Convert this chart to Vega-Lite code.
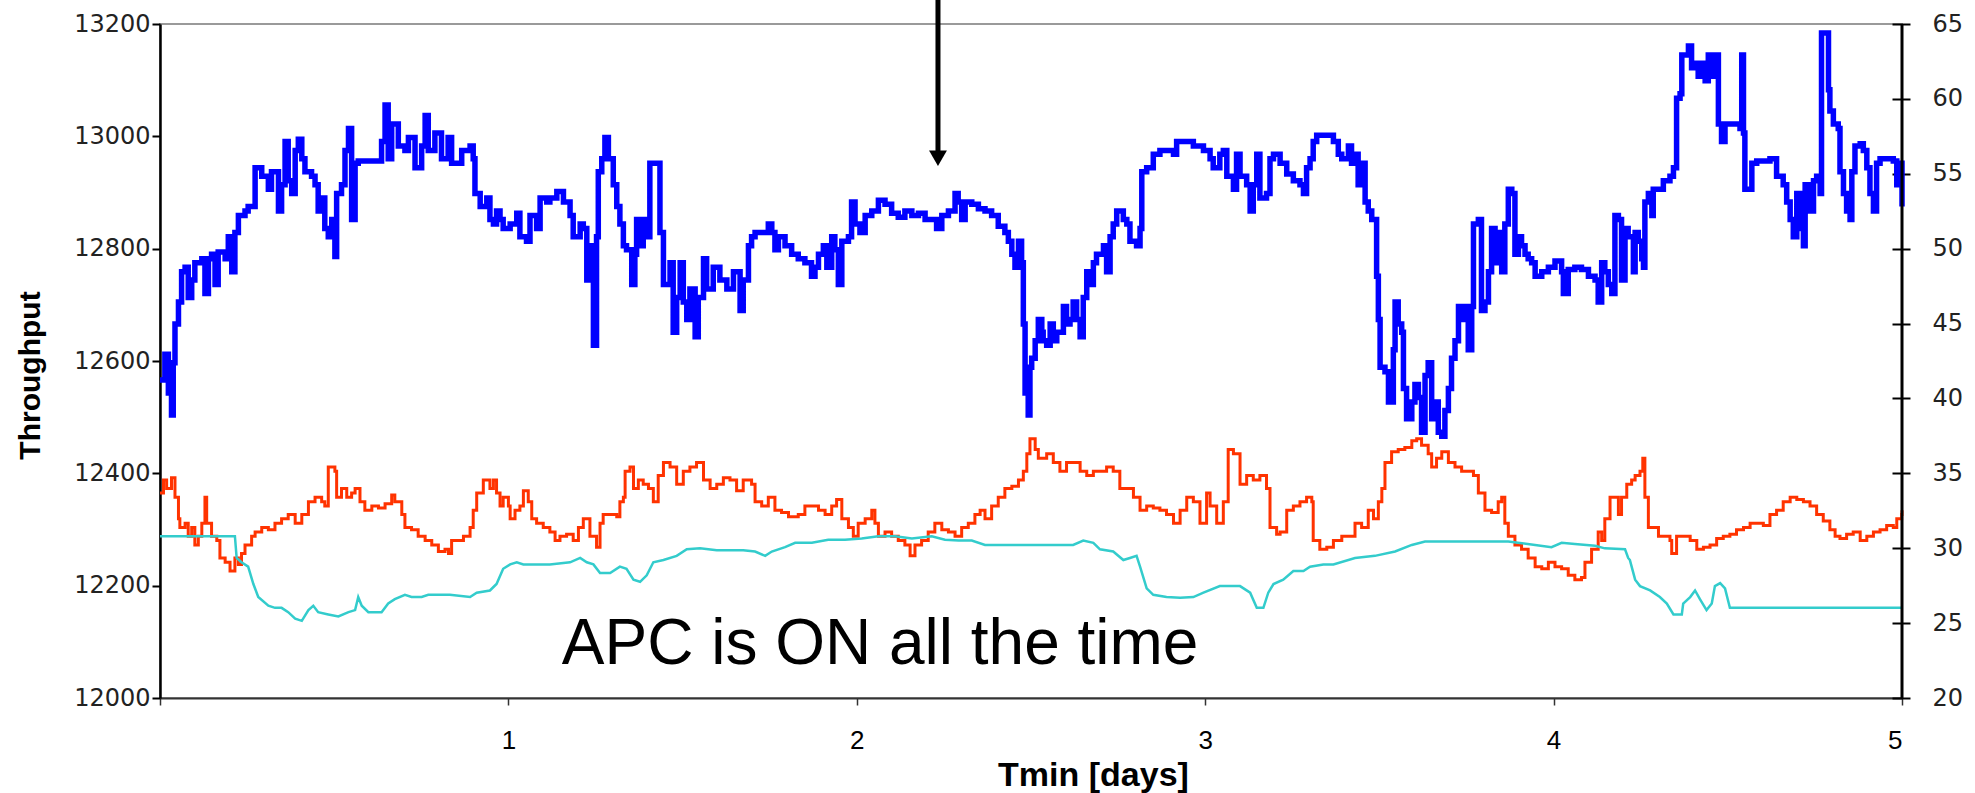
{
"$schema":"https://vega.github.io/schema/vega-lite/v6.json",
"width":1742,"height":674,
"autosize":{"type":"none"},
"padding":{"left":160,"top":24,"right":73,"bottom":95},
"background":"white",
"config":{"view":{"stroke":"#9a9a9a","strokeWidth":2},"axis":{"grid":false}},
"datasets":{
"tp":[{"t":0.000,"v":12566},{"t":0.014,"v":12612},{"t":0.024,"v":12543},{"t":0.033,"v":12504},{"t":0.038,"v":12597},{"t":0.043,"v":12666},{"t":0.053,"v":12705},{"t":0.062,"v":12759},{"t":0.072,"v":12767},{"t":0.081,"v":12713},{"t":0.091,"v":12744},{"t":0.100,"v":12775},{"t":0.120,"v":12782},{"t":0.129,"v":12720},{"t":0.139,"v":12782},{"t":0.148,"v":12790},{"t":0.158,"v":12736},{"t":0.167,"v":12794},{"t":0.187,"v":12782},{"t":0.196,"v":12821},{"t":0.206,"v":12759},{"t":0.215,"v":12829},{"t":0.225,"v":12859},{"t":0.244,"v":12867},{"t":0.253,"v":12875},{"t":0.273,"v":12944},{"t":0.292,"v":12929},{"t":0.311,"v":12906},{"t":0.320,"v":12937},{"t":0.340,"v":12867},{"t":0.349,"v":12914},{"t":0.359,"v":12991},{"t":0.368,"v":12921},{"t":0.378,"v":12898},{"t":0.388,"v":12975},{"t":0.397,"v":12995},{"t":0.407,"v":12960},{"t":0.416,"v":12937},{"t":0.435,"v":12929},{"t":0.445,"v":12914},{"t":0.454,"v":12867},{"t":0.464,"v":12890},{"t":0.473,"v":12836},{"t":0.483,"v":12821},{"t":0.493,"v":12852},{"t":0.502,"v":12786},{"t":0.507,"v":12898},{"t":0.521,"v":12914},{"t":0.531,"v":12975},{"t":0.541,"v":13014},{"t":0.550,"v":12852},{"t":0.560,"v":12952},{"t":0.569,"v":12956},{"t":0.617,"v":12956},{"t":0.636,"v":12991},{"t":0.646,"v":13056},{"t":0.655,"v":12960},{"t":0.665,"v":13022},{"t":0.684,"v":12983},{"t":0.703,"v":12975},{"t":0.713,"v":12998},{"t":0.732,"v":12944},{"t":0.751,"v":12983},{"t":0.761,"v":13037},{"t":0.770,"v":12975},{"t":0.789,"v":13006},{"t":0.808,"v":12960},{"t":0.827,"v":12998},{"t":0.837,"v":12952},
{"t":0.866,"v":12975},{"t":0.890,"v":12983},{"t":0.899,"v":12960},{"t":0.904,"v":12898},{"t":0.919,"v":12875},{"t":0.938,"v":12890},{"t":0.947,"v":12852},{"t":0.957,"v":12844},{"t":0.966,"v":12867},{"t":0.976,"v":12852},{"t":0.985,"v":12836},{"t":1.005,"v":12844},{"t":1.024,"v":12863},{"t":1.033,"v":12821},{"t":1.052,"v":12813},{"t":1.062,"v":12859},{"t":1.081,"v":12836},{"t":1.091,"v":12890},{"t":1.110,"v":12883},{"t":1.119,"v":12890},{"t":1.139,"v":12902},{"t":1.158,"v":12883},{"t":1.177,"v":12859},{"t":1.186,"v":12821},{"t":1.206,"v":12844},{"t":1.215,"v":12836},{"t":1.225,"v":12744},{"t":1.234,"v":12805},{"t":1.244,"v":12628},{"t":1.253,"v":12821},{"t":1.258,"v":12937},{"t":1.268,"v":12960},{"t":1.277,"v":12998},{"t":1.287,"v":12960},{"t":1.301,"v":12914},{"t":1.311,"v":12875},{"t":1.320,"v":12844},{"t":1.330,"v":12805},{"t":1.339,"v":12798},{"t":1.354,"v":12736},{"t":1.363,"v":12790},{"t":1.368,"v":12852},{"t":1.378,"v":12805},{"t":1.387,"v":12852},{"t":1.397,"v":12821},{"t":1.406,"v":12952},{"t":1.426,"v":12952},{"t":1.435,"v":12829},{"t":1.445,"v":12736},{"t":1.464,"v":12775},{"t":1.473,"v":12651},{"t":1.483,"v":12713},{"t":1.493,"v":12775},{"t":1.502,"v":12705},{"t":1.512,"v":12674},{"t":1.521,"v":12728},{"t":1.536,"v":12643},{"t":1.545,"v":12713},{"t":1.560,"v":12782},{"t":1.569,"v":12728},{"t":1.588,"v":12767},{"t":1.607,"v":12744},{"t":1.627,"v":12728},{"t":1.646,"v":12759},{"t":1.665,"v":12690},{"t":1.674,"v":12744},
{"t":1.689,"v":12805},{"t":1.698,"v":12821},{"t":1.708,"v":12829},{"t":1.727,"v":12829},{"t":1.746,"v":12844},{"t":1.756,"v":12829},{"t":1.765,"v":12798},{"t":1.775,"v":12821},{"t":1.794,"v":12805},{"t":1.813,"v":12790},{"t":1.832,"v":12782},{"t":1.851,"v":12775},{"t":1.870,"v":12751},{"t":1.880,"v":12767},{"t":1.890,"v":12790},{"t":1.904,"v":12805},{"t":1.914,"v":12767},{"t":1.928,"v":12821},{"t":1.937,"v":12798},{"t":1.947,"v":12736},{"t":1.957,"v":12813},{"t":1.976,"v":12821},{"t":1.985,"v":12883},{"t":1.995,"v":12844},{"t":2.009,"v":12829},{"t":2.024,"v":12859},{"t":2.043,"v":12867},{"t":2.062,"v":12886},{"t":2.081,"v":12879},{"t":2.100,"v":12863},{"t":2.119,"v":12856},{"t":2.138,"v":12867},{"t":2.158,"v":12859},{"t":2.177,"v":12863},{"t":2.196,"v":12852},{"t":2.215,"v":12852},{"t":2.229,"v":12836},{"t":2.244,"v":12859},{"t":2.263,"v":12867},{"t":2.282,"v":12898},{"t":2.291,"v":12883},{"t":2.301,"v":12852},{"t":2.311,"v":12883},{"t":2.330,"v":12879},{"t":2.349,"v":12871},{"t":2.368,"v":12867},{"t":2.387,"v":12859},{"t":2.406,"v":12840},{"t":2.425,"v":12829},{"t":2.435,"v":12813},{"t":2.445,"v":12790},{"t":2.454,"v":12767},{"t":2.464,"v":12813},{"t":2.473,"v":12775},{"t":2.478,"v":12666},{"t":2.483,"v":12543},{"t":2.492,"v":12504},{"t":2.497,"v":12589},{"t":2.502,"v":12605},{"t":2.512,"v":12636},{"t":2.521,"v":12674},{"t":2.531,"v":12651},
{"t":2.535,"v":12636},{"t":2.545,"v":12628},{"t":2.555,"v":12666},{"t":2.564,"v":12636},{"t":2.574,"v":12651},{"t":2.593,"v":12697},{"t":2.602,"v":12666},{"t":2.612,"v":12674},{"t":2.621,"v":12705},{"t":2.631,"v":12674},{"t":2.641,"v":12643},{"t":2.650,"v":12713},{"t":2.660,"v":12759},{"t":2.669,"v":12736},{"t":2.679,"v":12775},{"t":2.688,"v":12790},{"t":2.708,"v":12805},{"t":2.717,"v":12759},{"t":2.727,"v":12821},{"t":2.736,"v":12844},{"t":2.746,"v":12867},{"t":2.755,"v":12867},{"t":2.765,"v":12852},{"t":2.775,"v":12844},{"t":2.784,"v":12813},{"t":2.803,"v":12805},{"t":2.813,"v":12836},{"t":2.818,"v":12937},{"t":2.832,"v":12944},{"t":2.851,"v":12968},{"t":2.870,"v":12975},{"t":2.889,"v":12975},{"t":2.909,"v":12968},{"t":2.918,"v":12991},{"t":2.937,"v":12991},{"t":2.966,"v":12983},{"t":2.995,"v":12975},{"t":3.014,"v":12960},{"t":3.023,"v":12944},{"t":3.042,"v":12968},{"t":3.052,"v":12975},{"t":3.062,"v":12929},{"t":3.081,"v":12906},{"t":3.090,"v":12968},{"t":3.100,"v":12929},{"t":3.119,"v":12914},{"t":3.129,"v":12867},{"t":3.138,"v":12914},{"t":3.148,"v":12968},{"t":3.157,"v":12890},{"t":3.176,"v":12898},{"t":3.186,"v":12960},{"t":3.196,"v":12968},{"t":3.215,"v":12952},{"t":3.234,"v":12933},{"t":3.253,"v":12921},{"t":3.272,"v":12914},{"t":3.282,"v":12898},{"t":3.291,"v":12944},{"t":3.301,"v":12960},{"t":3.310,"v":12991},{"t":3.320,"v":13002},{"t":3.349,"v":13002},{"t":3.368,"v":12991},
{"t":3.382,"v":12968},{"t":3.392,"v":12960},{"t":3.411,"v":12983},{"t":3.420,"v":12952},{"t":3.430,"v":12968},{"t":3.439,"v":12914},{"t":3.449,"v":12952},{"t":3.459,"v":12883},{"t":3.468,"v":12867},{"t":3.478,"v":12852},{"t":3.487,"v":12852},{"t":3.492,"v":12751},{"t":3.497,"v":12674},{"t":3.502,"v":12589},{"t":3.516,"v":12581},{"t":3.526,"v":12527},{"t":3.535,"v":12527},{"t":3.540,"v":12620},{"t":3.545,"v":12705},{"t":3.554,"v":12666},{"t":3.564,"v":12651},{"t":3.569,"v":12551},{"t":3.578,"v":12497},{"t":3.593,"v":12527},{"t":3.602,"v":12558},{"t":3.612,"v":12535},{"t":3.621,"v":12473},{"t":3.631,"v":12574},{"t":3.640,"v":12597},{"t":3.650,"v":12497},{"t":3.660,"v":12527},{"t":3.669,"v":12473},{"t":3.679,"v":12466},{"t":3.688,"v":12512},{"t":3.698,"v":12551},{"t":3.707,"v":12605},{"t":3.717,"v":12636},{"t":3.727,"v":12697},{"t":3.736,"v":12674},{"t":3.746,"v":12697},{"t":3.755,"v":12620},{"t":3.765,"v":12697},{"t":3.770,"v":12844},{"t":3.784,"v":12852},{"t":3.793,"v":12690},{"t":3.803,"v":12705},{"t":3.813,"v":12759},{"t":3.822,"v":12836},{"t":3.832,"v":12775},{"t":3.841,"v":12829},{"t":3.851,"v":12759},{"t":3.860,"v":12844},{"t":3.870,"v":12906},{"t":3.880,"v":12898},{"t":3.889,"v":12790},{"t":3.899,"v":12821},{"t":3.908,"v":12805},{"t":3.918,"v":12790},{"t":3.927,"v":12782},{"t":3.937,"v":12775},{"t":3.947,"v":12751},{"t":3.966,"v":12759},{"t":3.985,"v":12767},{"t":4.004,"v":12778},{"t":4.023,"v":12759},{"t":4.028,"v":12720},{"t":4.042,"v":12763},{"t":4.061,"v":12767},{"t":4.080,"v":12763},{"t":4.100,"v":12751},{"t":4.119,"v":12744},{"t":4.128,"v":12705},{"t":4.138,"v":12775},{"t":4.147,"v":12759},{"t":4.157,"v":12736},{"t":4.167,"v":12720},{"t":4.176,"v":12859},{"t":4.186,"v":12852},{"t":4.195,"v":12744},{"t":4.205,"v":12836},{"t":4.214,"v":12821},
{"t":4.229,"v":12759},{"t":4.234,"v":12829},{"t":4.243,"v":12813},{"t":4.253,"v":12782},{"t":4.258,"v":12767},{"t":4.262,"v":12883},{"t":4.272,"v":12898},{"t":4.282,"v":12859},{"t":4.286,"v":12906},{"t":4.296,"v":12906},{"t":4.315,"v":12921},{"t":4.334,"v":12929},{"t":4.344,"v":12944},{"t":4.353,"v":13068},{"t":4.363,"v":13076},{"t":4.368,"v":13145},{"t":4.377,"v":13145},{"t":4.387,"v":13161},{"t":4.396,"v":13122},{"t":4.406,"v":13130},{"t":4.415,"v":13107},{"t":4.425,"v":13130},{"t":4.435,"v":13099},{"t":4.444,"v":13145},{"t":4.454,"v":13107},{"t":4.463,"v":13145},{"t":4.473,"v":13022},{"t":4.482,"v":12991},{"t":4.492,"v":13022},{"t":4.506,"v":13022},{"t":4.525,"v":13022},{"t":4.535,"v":13014},{"t":4.540,"v":13145},{"t":4.545,"v":13006},{"t":4.549,"v":12906},{"t":4.559,"v":12906},{"t":4.569,"v":12952},{"t":4.583,"v":12956},{"t":4.612,"v":12956},{"t":4.621,"v":12960},{"t":4.640,"v":12929},{"t":4.659,"v":12914},{"t":4.669,"v":12883},{"t":4.679,"v":12852},{"t":4.688,"v":12821},{"t":4.698,"v":12898},{"t":4.707,"v":12836},{"t":4.717,"v":12805},{"t":4.722,"v":12914},{"t":4.736,"v":12867},{"t":4.746,"v":12921},{"t":4.755,"v":12929},{"t":4.765,"v":12898},{"t":4.769,"v":13184},{"t":4.779,"v":13184},{"t":4.789,"v":13083},{"t":4.793,"v":13045},{"t":4.803,"v":13022},{"t":4.817,"v":13014},{"t":4.822,"v":12937},{"t":4.832,"v":12898},{"t":4.841,"v":12867},{"t":4.851,"v":12852},{"t":4.856,"v":12937},{"t":4.865,"v":12983},{"t":4.880,"v":12987},{"t":4.889,"v":12975},{"t":4.899,"v":12944},{"t":4.908,"v":12898},{"t":4.918,"v":12867},{"t":4.927,"v":12952},{"t":4.937,"v":12960},{"t":4.956,"v":12960},{"t":4.975,"v":12956},{"t":4.985,"v":12914},{"t":4.994,"v":12952},{"t":5.000,"v":12875}],
"red":[{"t":0.000,"v":33.69},{"t":0.010,"v":34.56},{"t":0.019,"v":33.98},{"t":0.033,"v":34.71},{"t":0.043,"v":33.40},{"t":0.053,"v":31.96},{"t":0.057,"v":31.38},{"t":0.072,"v":31.67},{"t":0.081,"v":30.80},{"t":0.091,"v":31.38},{"t":0.100,"v":30.22},{"t":0.110,"v":30.80},{"t":0.120,"v":31.67},{"t":0.129,"v":33.40},{"t":0.134,"v":31.67},{"t":0.148,"v":30.80},{"t":0.163,"v":30.51},{"t":0.172,"v":29.35},{"t":0.187,"v":29.06},{"t":0.201,"v":28.48},{"t":0.215,"v":29.35},{"t":0.225,"v":28.92},{"t":0.234,"v":29.64},{"t":0.244,"v":30.22},{"t":0.263,"v":30.80},{"t":0.273,"v":31.09},{"t":0.292,"v":31.38},{"t":0.311,"v":31.23},{"t":0.330,"v":31.67},{"t":0.349,"v":31.96},{"t":0.368,"v":32.25},{"t":0.388,"v":31.67},{"t":0.407,"v":32.25},{"t":0.426,"v":33.11},{"t":0.445,"v":33.40},{"t":0.464,"v":33.11},{"t":0.473,"v":32.82},{"t":0.483,"v":35.43},{"t":0.502,"v":35.14},{"t":0.507,"v":33.40},{"t":0.521,"v":33.98},{"t":0.536,"v":33.40},{"t":0.550,"v":33.69},{"t":0.560,"v":33.98},{"t":0.574,"v":33.11},{"t":0.588,"v":32.53},{"t":0.608,"v":32.82},{"t":0.627,"v":32.68},{"t":0.646,"v":32.97},{"t":0.665,"v":33.55},{"t":0.674,"v":33.11},{"t":0.694,"v":32.25},{"t":0.703,"v":31.38},{"t":0.722,"v":31.23},{"t":0.741,"v":30.80},{"t":0.761,"v":30.51},{"t":0.780,"v":30.22},{"t":0.799,"v":29.78},{"t":0.818,"v":29.93},{"t":0.828,"v":29.64},{"t":0.837,"v":30.51},
{"t":0.852,"v":30.51},{"t":0.871,"v":30.80},{"t":0.890,"v":31.38},{"t":0.899,"v":32.53},{"t":0.909,"v":33.69},{"t":0.928,"v":34.56},{"t":0.947,"v":33.98},{"t":0.957,"v":34.56},{"t":0.966,"v":33.69},{"t":0.976,"v":32.82},{"t":0.985,"v":33.40},{"t":1.000,"v":32.82},{"t":1.005,"v":31.96},{"t":1.019,"v":32.53},{"t":1.033,"v":32.82},{"t":1.043,"v":33.84},{"t":1.057,"v":33.11},{"t":1.067,"v":31.96},{"t":1.081,"v":31.67},{"t":1.100,"v":31.38},{"t":1.119,"v":31.09},{"t":1.134,"v":30.51},{"t":1.148,"v":30.80},{"t":1.167,"v":30.94},{"t":1.186,"v":30.51},{"t":1.201,"v":31.38},{"t":1.215,"v":31.96},{"t":1.234,"v":30.80},{"t":1.253,"v":30.07},{"t":1.263,"v":31.67},{"t":1.272,"v":32.25},{"t":1.292,"v":32.25},{"t":1.311,"v":32.10},{"t":1.320,"v":33.11},{"t":1.330,"v":33.40},{"t":1.335,"v":35.14},{"t":1.349,"v":35.43},{"t":1.359,"v":33.98},{"t":1.373,"v":34.56},{"t":1.387,"v":34.27},{"t":1.402,"v":33.98},{"t":1.416,"v":33.11},{"t":1.430,"v":34.85},{"t":1.445,"v":35.72},{"t":1.464,"v":35.43},{"t":1.483,"v":34.27},{"t":1.502,"v":35.14},{"t":1.521,"v":35.43},{"t":1.540,"v":35.72},{"t":1.560,"v":34.56},{"t":1.579,"v":33.98},{"t":1.598,"v":34.27},{"t":1.617,"v":34.71},{"t":1.636,"v":34.56},{"t":1.655,"v":33.84},{"t":1.674,"v":34.56},
{"t":1.698,"v":34.27},{"t":1.708,"v":33.11},{"t":1.727,"v":32.82},{"t":1.746,"v":33.40},{"t":1.765,"v":32.53},{"t":1.784,"v":32.39},{"t":1.804,"v":32.10},{"t":1.832,"v":32.25},{"t":1.851,"v":32.82},{"t":1.871,"v":32.82},{"t":1.890,"v":32.53},{"t":1.909,"v":32.25},{"t":1.928,"v":32.82},{"t":1.942,"v":33.26},{"t":1.957,"v":31.96},{"t":1.976,"v":31.38},{"t":1.990,"v":30.80},{"t":2.004,"v":31.67},{"t":2.024,"v":31.96},{"t":2.043,"v":32.53},{"t":2.052,"v":31.67},{"t":2.062,"v":30.80},{"t":2.081,"v":31.09},{"t":2.100,"v":30.80},{"t":2.119,"v":30.51},{"t":2.138,"v":30.22},{"t":2.153,"v":29.49},{"t":2.167,"v":30.22},{"t":2.186,"v":30.51},{"t":2.205,"v":31.09},{"t":2.224,"v":31.67},{"t":2.244,"v":31.23},{"t":2.263,"v":31.09},{"t":2.282,"v":30.80},{"t":2.301,"v":31.38},{"t":2.320,"v":31.67},{"t":2.339,"v":32.25},{"t":2.354,"v":32.53},{"t":2.368,"v":31.96},{"t":2.387,"v":32.82},{"t":2.406,"v":33.40},{"t":2.425,"v":33.98},{"t":2.445,"v":34.13},{"t":2.464,"v":34.56},{"t":2.478,"v":35.14},{"t":2.488,"v":36.30},{"t":2.497,"v":37.31},{"t":2.512,"v":36.59},{"t":2.521,"v":36.01},
{"t":2.545,"v":36.30},{"t":2.564,"v":35.72},{"t":2.583,"v":35.14},{"t":2.602,"v":35.72},{"t":2.621,"v":35.72},{"t":2.641,"v":35.14},{"t":2.660,"v":34.85},{"t":2.679,"v":35.14},{"t":2.698,"v":35.14},{"t":2.717,"v":35.43},{"t":2.736,"v":35.14},{"t":2.755,"v":33.98},{"t":2.775,"v":33.98},{"t":2.794,"v":33.40},{"t":2.813,"v":32.53},{"t":2.832,"v":32.82},{"t":2.851,"v":32.68},{"t":2.870,"v":32.53},{"t":2.889,"v":32.25},{"t":2.909,"v":31.67},{"t":2.928,"v":32.53},{"t":2.947,"v":33.40},{"t":2.966,"v":33.11},{"t":2.985,"v":31.67},{"t":3.004,"v":33.69},{"t":3.014,"v":32.82},{"t":3.033,"v":31.67},{"t":3.052,"v":33.11},{"t":3.066,"v":36.59},{"t":3.081,"v":36.30},{"t":3.100,"v":34.27},{"t":3.119,"v":34.85},{"t":3.138,"v":34.56},{"t":3.157,"v":34.85},{"t":3.176,"v":33.98},{"t":3.186,"v":31.38},{"t":3.205,"v":30.94},{"t":3.215,"v":31.09},{"t":3.234,"v":32.53},{"t":3.253,"v":32.82},{"t":3.272,"v":33.11},{"t":3.291,"v":33.40},{"t":3.306,"v":33.11},{"t":3.310,"v":30.51},{"t":3.329,"v":29.93},{"t":3.349,"v":30.07},{"t":3.368,"v":30.51},
{"t":3.392,"v":30.80},{"t":3.411,"v":30.80},{"t":3.430,"v":31.67},{"t":3.449,"v":31.38},{"t":3.468,"v":32.53},{"t":3.483,"v":31.96},{"t":3.497,"v":33.11},{"t":3.507,"v":33.98},{"t":3.516,"v":35.72},{"t":3.535,"v":36.44},{"t":3.554,"v":36.59},{"t":3.573,"v":36.73},{"t":3.593,"v":37.17},{"t":3.607,"v":37.31},{"t":3.621,"v":36.88},{"t":3.640,"v":36.30},{"t":3.650,"v":35.43},{"t":3.664,"v":36.01},{"t":3.679,"v":36.44},{"t":3.698,"v":35.72},{"t":3.717,"v":35.43},{"t":3.736,"v":35.14},{"t":3.755,"v":35.14},{"t":3.770,"v":34.85},{"t":3.784,"v":33.69},{"t":3.803,"v":32.53},{"t":3.822,"v":32.39},{"t":3.841,"v":33.11},{"t":3.851,"v":33.40},{"t":3.860,"v":31.67},{"t":3.870,"v":30.80},{"t":3.889,"v":30.22},{"t":3.908,"v":29.93},{"t":3.927,"v":29.35},{"t":3.947,"v":28.77},{"t":3.966,"v":28.63},{"t":3.985,"v":29.06},{"t":4.004,"v":28.77},{"t":4.023,"v":28.63},{"t":4.042,"v":28.19},{"t":4.061,"v":27.90},{"t":4.080,"v":28.05},{"t":4.090,"v":29.06},{"t":4.109,"v":29.93},{"t":4.128,"v":31.09},{"t":4.138,"v":30.51},{"t":4.147,"v":31.96},{"t":4.162,"v":33.40},{"t":4.176,"v":33.40},{"t":4.186,"v":32.25},{"t":4.195,"v":33.40},{"t":4.210,"v":34.27},
{"t":4.224,"v":34.56},{"t":4.234,"v":34.85},{"t":4.248,"v":35.14},{"t":4.256,"v":36.01},{"t":4.262,"v":33.40},{"t":4.272,"v":31.38},{"t":4.291,"v":31.38},{"t":4.301,"v":30.80},{"t":4.315,"v":30.80},{"t":4.334,"v":30.51},{"t":4.339,"v":29.64},{"t":4.353,"v":30.80},{"t":4.372,"v":30.80},{"t":4.392,"v":30.51},{"t":4.411,"v":29.93},{"t":4.430,"v":30.07},{"t":4.449,"v":30.22},{"t":4.468,"v":30.65},{"t":4.487,"v":30.80},{"t":4.506,"v":30.94},{"t":4.525,"v":31.23},{"t":4.545,"v":31.38},{"t":4.564,"v":31.67},{"t":4.583,"v":31.67},{"t":4.602,"v":31.52},{"t":4.621,"v":32.25},{"t":4.640,"v":32.53},{"t":4.659,"v":33.11},{"t":4.679,"v":33.40},{"t":4.698,"v":33.26},{"t":4.717,"v":33.11},{"t":4.736,"v":32.82},{"t":4.755,"v":32.25},{"t":4.774,"v":31.81},{"t":4.793,"v":31.23},{"t":4.808,"v":30.80},{"t":4.822,"v":30.65},{"t":4.841,"v":30.94},{"t":4.860,"v":31.09},{"t":4.880,"v":30.51},{"t":4.899,"v":30.80},{"t":4.918,"v":31.09},{"t":4.937,"v":31.23},{"t":4.956,"v":31.52},{"t":4.975,"v":31.38},{"t":4.985,"v":31.96},{"t":4.999,"v":32.25},{"t":5.000,"v":32.53}],
"cyan":[{"t":0.000,"v":30.80},{"t":0.215,"v":30.80},{"t":0.220,"v":29.35},{"t":0.234,"v":29.06},{"t":0.253,"v":28.77},{"t":0.268,"v":27.61},{"t":0.282,"v":26.74},{"t":0.311,"v":26.16},{"t":0.330,"v":26.02},{"t":0.349,"v":26.02},{"t":0.368,"v":25.73},{"t":0.388,"v":25.30},{"t":0.407,"v":25.15},{"t":0.426,"v":25.87},{"t":0.440,"v":26.16},{"t":0.454,"v":25.73},{"t":0.483,"v":25.58},{"t":0.512,"v":25.44},{"t":0.541,"v":25.73},{"t":0.560,"v":25.87},{"t":0.569,"v":26.74},{"t":0.579,"v":26.16},{"t":0.598,"v":25.73},{"t":0.636,"v":25.73},{"t":0.655,"v":26.31},{"t":0.674,"v":26.60},{"t":0.703,"v":26.89},{"t":0.722,"v":26.74},{"t":0.751,"v":26.74},{"t":0.770,"v":26.89},{"t":0.808,"v":26.89},
{"t":0.832,"v":26.89},{"t":0.890,"v":26.74},{"t":0.909,"v":27.03},{"t":0.947,"v":27.18},{"t":0.966,"v":27.61},{"t":0.985,"v":28.63},{"t":1.005,"v":28.92},{"t":1.024,"v":29.06},{"t":1.043,"v":28.92},{"t":1.119,"v":28.92},{"t":1.177,"v":29.06},{"t":1.206,"v":29.35},{"t":1.225,"v":29.06},{"t":1.244,"v":28.92},{"t":1.263,"v":28.34},{"t":1.292,"v":28.34},{"t":1.320,"v":28.77},{"t":1.339,"v":28.63},{"t":1.359,"v":27.90},{"t":1.378,"v":27.76},{"t":1.397,"v":28.19},{"t":1.416,"v":29.06},{"t":1.445,"v":29.21},{"t":1.483,"v":29.49},{"t":1.512,"v":29.93},{"t":1.550,"v":29.99},{"t":1.598,"v":29.87},{"t":1.674,"v":29.87},
{"t":1.708,"v":29.78},{"t":1.737,"v":29.49},{"t":1.756,"v":29.78},{"t":1.794,"v":30.07},{"t":1.823,"v":30.36},{"t":1.871,"v":30.36},{"t":1.918,"v":30.57},{"t":1.966,"v":30.57},{"t":2.014,"v":30.65},{"t":2.062,"v":30.80},{"t":2.110,"v":30.80},{"t":2.158,"v":30.65},{"t":2.215,"v":30.80},{"t":2.253,"v":30.57},{"t":2.292,"v":30.51},{"t":2.330,"v":30.51},{"t":2.368,"v":30.22},{"t":2.425,"v":30.22},{"t":2.521,"v":30.22},
{"t":2.621,"v":30.22},{"t":2.650,"v":30.51},{"t":2.679,"v":30.36},{"t":2.698,"v":29.93},{"t":2.736,"v":29.78},{"t":2.765,"v":29.21},{"t":2.784,"v":29.35},{"t":2.803,"v":29.49},{"t":2.813,"v":28.77},{"t":2.832,"v":27.32},{"t":2.851,"v":26.89},{"t":2.889,"v":26.74},{"t":2.928,"v":26.69},{"t":2.966,"v":26.74},{"t":2.995,"v":27.03},{"t":3.042,"v":27.47},{"t":3.100,"v":27.47},{"t":3.129,"v":27.03},{"t":3.148,"v":26.02},{"t":3.167,"v":26.02},{"t":3.181,"v":27.03},{"t":3.196,"v":27.61},{"t":3.224,"v":27.90},{"t":3.253,"v":28.48},{"t":3.282,"v":28.48},{"t":3.301,"v":28.77},{"t":3.339,"v":28.92},{"t":3.368,"v":28.92},
{"t":3.430,"v":29.35},{"t":3.487,"v":29.49},{"t":3.545,"v":29.78},{"t":3.593,"v":30.22},{"t":3.631,"v":30.45},{"t":3.870,"v":30.45},{"t":3.947,"v":30.22},{"t":3.994,"v":30.07},{"t":4.023,"v":30.36},{"t":4.061,"v":30.28},{"t":4.119,"v":30.16},{"t":4.147,"v":29.99},{"t":4.205,"v":29.93},{"t":4.214,"v":29.35},
{"t":4.219,"v":29.21},{"t":4.234,"v":27.90},{"t":4.248,"v":27.47},{"t":4.277,"v":27.18},{"t":4.305,"v":26.74},{"t":4.325,"v":26.31},{"t":4.344,"v":25.58},{"t":4.368,"v":25.58},{"t":4.372,"v":26.31},{"t":4.392,"v":26.74},{"t":4.406,"v":27.18},{"t":4.420,"v":26.60},{"t":4.439,"v":25.87},{"t":4.454,"v":26.31},{"t":4.463,"v":27.47},{"t":4.478,"v":27.67},{"t":4.492,"v":27.32},{"t":4.506,"v":26.02},{"t":5.000,"v":26.02}]
},
"layer":[
{"layer":[
{"data":{"name":"tp"},"mark":{"type":"line","color":"#0000ff","strokeWidth":5.5,"interpolate":"step-after"},
"encoding":{
"x":{"field":"t","type":"quantitative","scale":{"domain":[0,5],"nice":false,"zero":false},
"axis":{"values":[0,1,2,3,4,5],"format":"d","labelExpr":"datum.value == 0 ? '' : datum.label","domainColor":"#333333","domainWidth":2,"tickColor":"#333333","tickWidth":1.5,"tickSize":7,"labelPadding":22,"labelFont":"Liberation Sans","labelFontSize":26,"labelColor":"#000000","title":"Tmin [days]","titleFont":"Liberation Sans","titleFontSize":34,"titleFontWeight":"bold","titleColor":"#000000","titleX":933,"titleY":87,"titleAlign":"center","titleBaseline":"alphabetic","grid":false}},
"y":{"field":"v","type":"quantitative","scale":{"domain":[12000,13200],"nice":false,"zero":false},
"axis":{"orient":"left","values":[12000,12200,12400,12600,12800,13000,13200],"format":"d","domainColor":"#000000","domainWidth":2.5,"tickColor":"#000000","tickWidth":2,"tickSize":8,"labelFont":"DejaVu Sans","labelFontSize":24,"labelColor":"#222222","labelPadding":2,"title":"Throughput","titleFont":"Liberation Sans","titleFontSize":30,"titleFontWeight":"bold","titleColor":"#000000","titleAngle":270,"titleX":-121,"titleY":351,"titleAlign":"center","titleBaseline":"alphabetic","grid":false}}}},
{"data":{"values":[{}]},"mark":{"type":"rule","color":"#000000","strokeWidth":5},
"encoding":{"x":{"datum":2.233,"type":"quantitative"},"y":{"datum":13243,"type":"quantitative"},"y2":{"datum":12968}}},
{"data":{"values":[{}]},"mark":{"type":"point","shape":"triangle-down","size":320,"filled":true,"color":"#000000","opacity":1},
"encoding":{"x":{"datum":2.233,"type":"quantitative"},"y":{"datum":12961,"type":"quantitative"}}},
{"data":{"values":[{}]},"mark":{"type":"text","text":"APC is ON all the time","font":"Liberation Sans","fontSize":64,"align":"center","baseline":"alphabetic","color":"#000000"},
"encoding":{"x":{"datum":2.067,"type":"quantitative"},"y":{"datum":12060,"type":"quantitative"}}}
]},
{"layer":[
{"data":{"name":"red"},"mark":{"type":"line","color":"#ff3300","strokeWidth":3,"interpolate":"step-after"},
"encoding":{
"x":{"field":"t","type":"quantitative"},
"y":{"field":"v","type":"quantitative","scale":{"domain":[20,65],"nice":false,"zero":false},
"axis":{"orient":"right","offset":-10,"values":[20,25,30,35,40,45,50,55,60,65],"format":"d","domain":false,"tickColor":"#000000","tickWidth":2,"tickSize":18,"labelPadding":22,"labelFont":"DejaVu Sans","labelFontSize":24,"labelColor":"#222222","title":null,"grid":false}}}},
{"data":{"name":"cyan"},"mark":{"type":"line","color":"#33cccc","strokeWidth":2.5},
"encoding":{"x":{"field":"t","type":"quantitative"},"y":{"field":"v","type":"quantitative"}}},
{"data":{"values":[{}]},"mark":{"type":"rule","color":"#000000","strokeWidth":3},
"encoding":{"x":{"datum":5,"type":"quantitative"},"y":{"datum":20,"type":"quantitative"},"y2":{"datum":65}}}
]}
],
"resolve":{"scale":{"y":"independent"}}
}
